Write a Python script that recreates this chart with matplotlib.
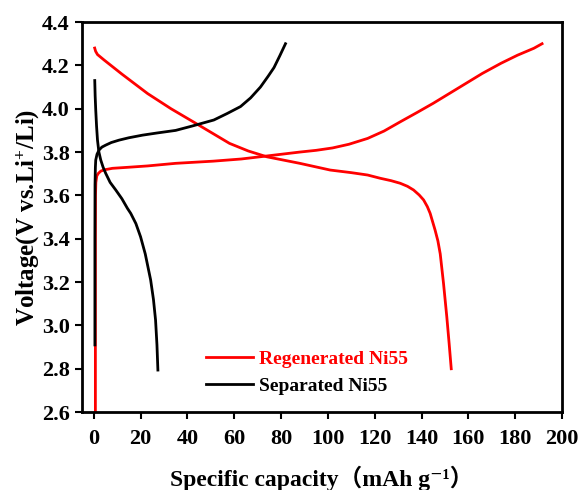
import matplotlib
matplotlib.use("Agg")
from matplotlib import pyplot as plt

# Regenerated Ni55 (red)
reg_chg_x = [0.7, 0.7, 0.7, 0.75, 0.9, 1.3, 2.0, 3.0, 4.5, 8.0, 15.0, 23.0, 35.0, 51.0, 63.0, 74.0, 81.0,
             88.0, 95.0, 102.0, 109.0, 117.0, 124.0, 131.0, 138.0, 145.0, 152.0, 159.0, 166.0, 174.0, 181.0, 188.0, 191.5]
reg_chg_y = [2.60, 3.00, 3.40, 3.60, 3.66, 3.69, 3.702, 3.712, 3.718, 3.725, 3.730, 3.736, 3.748, 3.758, 3.768, 3.782, 3.791,
             3.800, 3.808, 3.819, 3.836, 3.863, 3.897, 3.940, 3.982, 4.025, 4.071, 4.117, 4.163, 4.210, 4.247, 4.279, 4.300]
reg_dis_x = [0.4, 0.8, 1.6, 4.4, 12.0, 23.0, 33.0, 44.0, 51.0, 58.0, 66.0, 74.0, 88.0, 101.0, 110.0, 117.0, 122.4, 127.0,
             130.9, 134.0, 136.6, 139.0, 140.9, 142.5, 143.7, 145.8, 147.0, 148.0, 149.4, 150.8, 151.8, 152.7]
reg_dis_y = [4.28, 4.265, 4.25, 4.225, 4.16, 4.07, 4.00, 3.93, 3.885, 3.84, 3.805, 3.778, 3.748, 3.717, 3.705, 3.694, 3.679, 3.668,
             3.656, 3.642, 3.625, 3.602, 3.579, 3.548, 3.517, 3.44, 3.39, 3.33, 3.194, 3.04, 2.917, 2.80]

# Separated Ni55 (black)
sep_chg_x = [0.5, 0.5, 0.55, 0.7, 0.85, 1.4, 2.3, 3.5, 5.1, 7.5, 10.8, 15.0, 20.8, 27.0, 35.0, 42.0, 51.3, 57.0,
             62.7, 67.0, 71.2, 74.5, 77.0, 79.5, 81.9]
sep_chg_y = [2.91, 3.40, 3.65, 3.73, 3.763, 3.79, 3.81, 3.823, 3.832, 3.844, 3.855, 3.866, 3.878, 3.888, 3.90, 3.92, 3.948, 3.978,
             4.010, 4.050, 4.100, 4.150, 4.190, 4.245, 4.300]
sep_dis_x = [0.43, 0.6, 0.85, 1.2, 1.6, 2.2, 3.0, 4.0, 5.1, 7.0, 9.4, 12.0, 14.4, 15.8, 18.0, 20.0, 22.0, 24.3, 25.5,
             26.4, 27.0, 27.4]
sep_dis_y = [4.13, 4.06, 3.994, 3.92, 3.855, 3.80, 3.763, 3.73, 3.702, 3.66, 3.625, 3.585, 3.54, 3.517, 3.47, 3.409, 3.33, 3.21, 3.12,
             3.025, 2.91, 2.794]

xticks = list(range(0, 201, 20))
yticks = [2.6, 2.8, 3.0, 3.2, 3.4, 3.6, 3.8, 4.0, 4.2, 4.4]

plt.rcParams['font.family'] = ['Liberation Serif', 'Noto Sans CJK SC', 'DejaVu Serif']
plt.rcParams['font.weight'] = 'bold'
plt.rcParams['mathtext.fontset'] = 'custom'
plt.rcParams['mathtext.rm'] = 'Liberation Serif:bold'
plt.rcParams['mathtext.bf'] = 'Liberation Serif:bold'
plt.rcParams['mathtext.default'] = 'bf'

fig = plt.figure(figsize=(5.86, 4.90), dpi=100)
ax = fig.add_axes([0.140, 0.159, 0.819, 0.796])

red = '#ff0000'
ax.plot(reg_chg_x, reg_chg_y, color=red, lw=2, label='Regenerated Ni55')
ax.plot(reg_dis_x, reg_dis_y, color=red, lw=2)
ax.plot(sep_chg_x, sep_chg_y, color='black', lw=2, label='Separated Ni55')
ax.plot(sep_dis_x, sep_dis_y, color='black', lw=2)

ax.set_xlim(-5, 200)
ax.set_ylim(2.6, 4.4)
ax.set_xticks(xticks)
ax.set_yticks(yticks)
ax.set_yticklabels(['%.1f' % v for v in yticks])
ax.tick_params(direction='out', length=5, width=1.5, labelsize=16)
ax.tick_params(axis='x', pad=7)
ax.tick_params(axis='y', pad=4)
for s in ax.spines.values():
    s.set_linewidth(2)

ax.set_xlabel('Specific capacity（mAh g⁻¹）', fontsize=17, fontweight='bold', labelpad=12)
ax.set_ylabel('Voltage(V vs.Li$^{+}$/Li)', fontsize=18, fontweight='bold', labelpad=0)

leg = ax.legend(loc='lower left', bbox_to_anchor=(0.222, 0.0), frameon=False,
                fontsize=14, handlelength=2.4, handletextpad=0.3, labelspacing=0.45)
for txt, c in zip(leg.get_texts(), [red, 'black']):
    txt.set_color(c)

fig.savefig('out.png', dpi=100)
